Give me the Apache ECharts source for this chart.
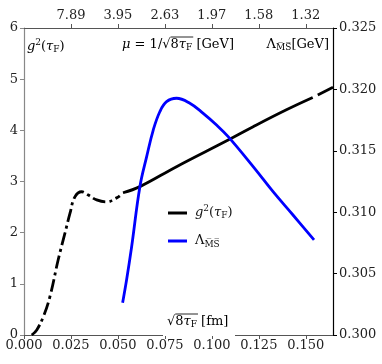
<!DOCTYPE html>
<html>
<head>
<meta charset="utf-8">
<script src="https://cdn.jsdelivr.net/npm/echarts@6/dist/echarts.min.js"></script>
<style>
  html, body { margin: 0; padding: 0; background: #fff; }
  #chart { width: 382px; height: 364px; }
</style>
</head>
<body>
<div id="chart"></div>
<script>
  // g^2(tau_F) vs sqrt(8 tau_F) [fm]
  const gDashX = [0.0041, 0.0068, 0.0103, 0.0138, 0.0182, 0.0218, 0.0245, 0.0271, 0.0307, 0.0340, 0.0387, 0.0440, 0.0493, 0.0510];
  const gDashY = [0.00, 0.10, 0.36, 0.75, 1.47, 1.99, 2.38, 2.70, 2.80, 2.74, 2.64, 2.60, 2.68, 2.72];
  const gSolidX = [0.0527, 0.0617, 0.0812, 0.1087, 0.1220, 0.1397, 0.1537];
  const gSolidY = [2.78, 2.90, 3.29, 3.81, 4.07, 4.40, 4.64];
  const gTailX = [0.1564, 0.1645];
  const gTailY = [4.69, 4.84];

  // Lambda_MSbar [GeV]
  const lamX = [0.0525, 0.0546, 0.0573, 0.0617, 0.0653, 0.0688, 0.0723, 0.0759, 0.0812, 0.0883, 0.0954, 0.1025, 0.1087, 0.1220, 0.1326, 0.1432, 0.1544];
  const lamY = [0.30263, 0.30448, 0.30719, 0.31208, 0.31452, 0.31669, 0.31818, 0.31900, 0.31928, 0.31887, 0.31805, 0.31710, 0.31615, 0.31371, 0.31167, 0.30977, 0.30774];

  const xTicks = [0, 0.025, 0.05, 0.075, 0.1, 0.125, 0.15];
  const muLabels = ["", "7.89", "3.95", "2.63", "1.97", "1.58", "1.32"];

  const FONT = "DejaVu Serif";
  const zip = (xs, ys) => xs.map((x, i) => [x, ys[i]]);

  // text widths, only used to place the radical overbars
  const ctx = document.createElement("canvas").getContext("2d");
  function tw(str, size, italic) {
    ctx.font = (italic ? "italic " : "") + size + "px '" + FONT + "'";
    return ctx.measureText(str).width;
  }

  const inst = echarts.init(document.getElementById("chart"), null, { renderer: "canvas" });

  const rich = {
    i: { fontFamily: FONT, fontStyle: "italic", fontSize: 13, color: "#111" },
    r: { fontFamily: FONT, fontSize: 13, color: "#111" },
    sup: { fontFamily: FONT, fontSize: 9, color: "#111", padding: [0, 0, 9, 0] },
    sub: { fontFamily: FONT, fontSize: 9, color: "#111", padding: [6, 0, 0, 0] },
    msub: { fontFamily: FONT, fontSize: 9, color: "#111", padding: [7, 0, 0, 0] },
  };
  const G2 = "{i|g}{sup|2}{r|(}{i|τ}{sub|F}{r|)}";
  const LAM = "{r|Λ}{msub|M\u0305S\u0305}";

  // overbar over "8τF" following a √
  function radicalBar(x0, y) {
    const w = tw("8", 13) + tw("τ", 13, true) + tw("F", 9) + 1;
    return {
      type: "line", z: 60,
      shape: { x1: x0, y1: y, x2: x0 + w, y2: y },
      style: { stroke: "#111", lineWidth: 0.9 },
    };
  }
  const muLeft = 122, muTop = 38;
  const muBarX = muLeft + tw("μ", 13, true) + tw(" = 1/√", 13);
  const fmLeft = 167, fmTop = 315;
  const fmBarX = fmLeft + tw("√", 13);

  const axisCommon = {
    type: "value", min: 0, max: 0.1645,
    splitLine: { show: false },
  };

  inst.setOption({
    animation: false,
    grid: { left: 24, right: 49, top: 28, bottom: 29 },
    legend: {
      orient: "vertical", left: 168, top: 204, itemGap: 14, padding: 0,
      icon: "rect", itemWidth: 19, itemHeight: 3,
      data: ["g2", "lam"],
      formatter: (n) => (n === "g2" ? G2 : LAM),
      textStyle: { rich: rich, padding: [0, 0, 0, 3] },
    },
    xAxis: [
      Object.assign({}, axisCommon, {
        position: "bottom",
        axisLine: { onZero: false, lineStyle: { color: "#555", width: 1 } },
        axisTick: { length: 4, lineStyle: { color: "#555" }, customValues: xTicks },
        axisLabel: {
          customValues: xTicks, margin: 4,
          fontFamily: FONT, fontSize: 13, color: "#222",
          formatter: (v) => v.toFixed(3),
        },
      }),
      Object.assign({}, axisCommon, {
        position: "top",
        axisLine: { onZero: false, lineStyle: { color: "#555", width: 1 } },
        axisTick: { length: 4, lineStyle: { color: "#555" }, customValues: xTicks.slice(1) },
        axisLabel: {
          customValues: xTicks.slice(1), margin: 6,
          fontFamily: FONT, fontSize: 13, color: "#222",
          formatter: (v) => muLabels[Math.round(v / 0.025)],
        },
      }),
    ],
    yAxis: [
      {
        type: "value", min: 0, max: 6, interval: 1, position: "left",
        splitLine: { show: false },
        axisLine: { show: true, onZero: false, lineStyle: { color: "#888", width: 1.2 } },
        axisTick: { show: true, length: 4, lineStyle: { color: "#888" } },
        axisLabel: { margin: 6, fontFamily: FONT, fontSize: 13, color: "#222" },
      },
      {
        type: "value", min: 0.3, max: 0.325, interval: 0.005, position: "right",
        splitLine: { show: false },
        axisLine: { show: true, onZero: false, lineStyle: { color: "#000", width: 1.2 } },
        axisTick: { show: true, length: 4, lineStyle: { color: "#000" } },
        axisLabel: {
          margin: 6, fontFamily: FONT, fontSize: 13, color: "#222",
          formatter: (v) => v.toFixed(3),
        },
      },
    ],
    graphic: [
      {
        type: "text", left: 27, top: 38, z: 50,
        style: { text: G2, rich: rich },
      },
      {
        type: "text", left: muLeft, top: muTop, z: 50,
        style: { text: "{i|μ}{r| = 1/√8}{i|τ}{sub|F}{r| [GeV]}", rich: rich },
      },
      radicalBar(muBarX, muTop - 1),
      {
        type: "text", right: 53, top: 38, z: 50,
        style: { text: "{r|Λ}{msub|M\u0305S\u0305}{r|[GeV]}", rich: rich },
      },
      {
        type: "rect", z: 55,
        shape: { x: fmLeft - 4, y: fmTop - 3, width: 72, height: 24 },
        style: { fill: "#fff" },
      },
      {
        type: "text", left: fmLeft, top: fmTop, z: 60,
        style: { text: "{r|√8}{i|τ}{sub|F}{r| [fm]}", rich: rich },
      },
      radicalBar(fmBarX, fmTop - 1),
    ],
    series: [
      {
        name: "g2", type: "line", xAxisIndex: 0, yAxisIndex: 0,
        data: zip(gDashX, gDashY), smooth: 0.4, showSymbol: false,
        lineStyle: { color: "#000", width: 2.8, type: [13, 4, 3, 4] },
        itemStyle: { color: "#000" },
      },
      {
        name: "g2", type: "line", xAxisIndex: 0, yAxisIndex: 0,
        data: zip(gSolidX, gSolidY), smooth: 0.4, showSymbol: false,
        lineStyle: { color: "#000", width: 2.8 },
        itemStyle: { color: "#000" },
      },
      {
        name: "g2", type: "line", xAxisIndex: 0, yAxisIndex: 0,
        data: zip(gTailX, gTailY), showSymbol: false,
        lineStyle: { color: "#000", width: 2.8 },
        itemStyle: { color: "#000" },
      },
      {
        name: "lam", type: "line", xAxisIndex: 0, yAxisIndex: 1,
        data: zip(lamX, lamY), smooth: 0.4, showSymbol: false,
        lineStyle: { color: "#0000ff", width: 2.8 },
        itemStyle: { color: "#0000ff" },
      },
    ],
  });
</script>
</body>
</html>
